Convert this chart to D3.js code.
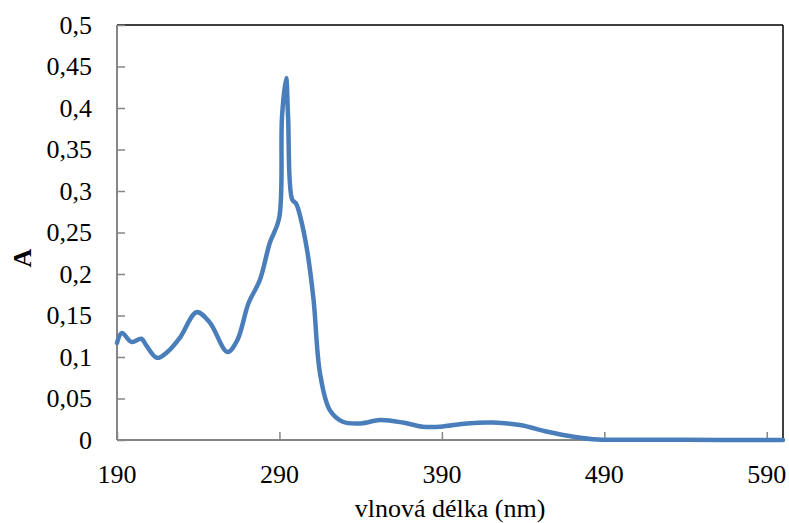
<!DOCTYPE html>
<html>
<head>
<meta charset="utf-8">
<script src="https://cdn.jsdelivr.net/npm/d3@7"></script>
<style>
  body { margin: 0; background: #fff; }
  text { font-family: "Liberation Serif", "Times New Roman", serif; }
</style>
</head>
<body>
<svg id="chart" width="789" height="523"></svg>
<script>
// spectrum
const wavelengths = [190, 193, 199, 205, 208, 214.6, 221, 229, 239, 247, 258, 264, 271, 278, 284, 289.8,
  291.6, 294.1, 295.3, 297.8, 300.2, 302.7, 307, 311, 315, 321, 329, 340, 352, 366, 378, 389,
  405.5, 421.5, 438, 455, 471, 486, 500, 530, 560, 600];
const absorbance = [0.117, 0.129, 0.118, 0.122, 0.114, 0.099, 0.106, 0.124, 0.154, 0.142, 0.106, 0.120, 0.165, 0.193, 0.237, 0.267,
  0.39, 0.436, 0.39, 0.29, 0.285, 0.27, 0.229, 0.169, 0.08, 0.036, 0.022, 0.020, 0.024, 0.021, 0.016, 0.016,
  0.020, 0.021, 0.018, 0.010, 0.004, 0.0005, 0.0003, 0.0002, 0.0001, 0.0];
const xTicks = [190, 290, 390, 490, 590];
const yTicks = [0, 0.05, 0.1, 0.15, 0.2, 0.25, 0.3, 0.35, 0.4, 0.45, 0.5];

const svg = d3.select('#chart');
const margin = { top: 25, right: 6, bottom: 83, left: 117 };
const width = 789, height = 523;

const x = d3.scaleLinear().domain([190, 600]).range([margin.left, width - margin.right]);
const y = d3.scaleLinear().domain([0, 0.5]).range([height - margin.bottom, margin.top]);
const fmt = d => String(d).replace('.', ',');

// frame: top and right black
svg.append('line')
  .attr('x1', x(190)).attr('x2', x(600)).attr('y1', y(0.5)).attr('y2', y(0.5))
  .attr('stroke', '#000').attr('stroke-width', 1.5);
svg.append('line')
  .attr('x1', x(600)).attr('x2', x(600)).attr('y1', y(0.5)).attr('y2', y(0))
  .attr('stroke', '#000').attr('stroke-width', 1.5);

// Y axis
const yAxis = svg.append('g')
  .attr('transform', `translate(${margin.left},0)`)
  .call(d3.axisRight(y).tickValues(yTicks).tickSize(8).tickFormat(''));
yAxis.select('.domain').attr('stroke', '#868686').attr('stroke-width', 2).attr('d', `M0,${y(0)}V${y(0.5)}`);
yAxis.selectAll('.tick line').attr('stroke', '#868686').attr('stroke-width', 1.5);
svg.append('g')
  .selectAll('text')
  .data(yTicks)
  .enter()
  .append('text')
  .attr('x', 92)
  .attr('y', d => y(d))
  .attr('dy', '0.33em')
  .attr('text-anchor', 'end')
  .attr('font-size', 26)
  .text(fmt);

// X axis
const xAxis = svg.append('g')
  .attr('transform', `translate(0,${height - margin.bottom})`)
  .call(d3.axisTop(x).tickValues(xTicks).tickSize(8).tickFormat(''));
xAxis.select('.domain').attr('stroke', '#868686').attr('stroke-width', 2).attr('d', `M${x(190)},0H${x(600)}`);
xAxis.selectAll('.tick line').attr('stroke', '#868686').attr('stroke-width', 1.5);
svg.append('g')
  .selectAll('text')
  .data(xTicks)
  .enter()
  .append('text')
  .attr('x', d => x(d))
  .attr('y', 474)
  .attr('dy', '0.33em')
  .attr('text-anchor', 'middle')
  .attr('font-size', 26)
  .text(d => d);

// titles
svg.append('text')
  .attr('x', 450).attr('y', 517)
  .attr('text-anchor', 'middle').attr('font-size', 26)
  .text('vlnová délka (nm)');
svg.append('text')
  .attr('transform', 'translate(22,258) rotate(-90)')
  .attr('dy', '0.35em')
  .attr('text-anchor', 'middle').attr('font-size', 26).attr('font-weight', 'bold')
  .text('A');

// spectrum line
const points = wavelengths.map((w, i) => [w, absorbance[i]]);
svg.append('path')
  .datum(points)
  .attr('fill', 'none')
  .attr('stroke', '#4a7ebb')
  .attr('stroke-width', 4.5)
  .attr('stroke-linejoin', 'round')
  .attr('stroke-linecap', 'round')
  .attr('d', d3.line().x(d => x(d[0])).y(d => y(d[1])).curve(d3.curveCatmullRom.alpha(0.5)));
</script>
</body>
</html>
